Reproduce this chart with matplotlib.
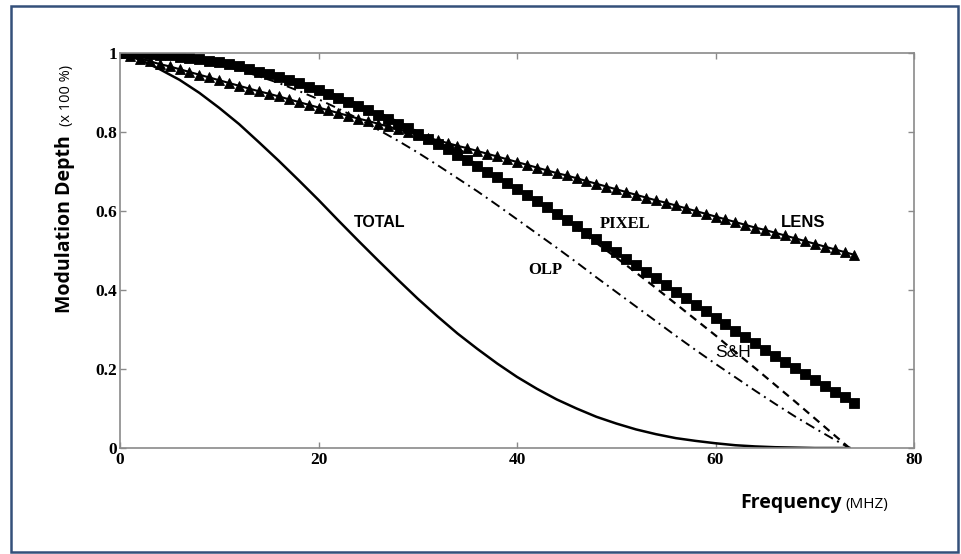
import matplotlib
matplotlib.use("Agg")
import matplotlib.pyplot as plt
from matplotlib.patches import Rectangle

# frequency grid (MHz) for the marker curves
FREQ = list(range(0, 75))

LENS = [1.000, 0.993, 0.986, 0.979, 0.972, 0.966, 0.959, 0.952, 0.945, 0.938,
        0.931, 0.924, 0.917, 0.910, 0.903, 0.897, 0.890, 0.883, 0.876, 0.869,
        0.862, 0.855, 0.848, 0.841, 0.834, 0.828, 0.821, 0.814, 0.807, 0.800,
        0.793, 0.786, 0.779, 0.772, 0.765, 0.759, 0.752, 0.745, 0.738, 0.731,
        0.724, 0.717, 0.710, 0.703, 0.696, 0.690, 0.683, 0.676, 0.669, 0.662,
        0.655, 0.648, 0.641, 0.634, 0.627, 0.621, 0.614, 0.607, 0.600, 0.593,
        0.586, 0.579, 0.572, 0.565, 0.558, 0.552, 0.545, 0.538, 0.531, 0.524,
        0.517, 0.510, 0.503, 0.496, 0.489]

PIXEL = [1.000, 1.000, 0.999, 0.998, 0.996, 0.994, 0.991, 0.988, 0.985, 0.981,
         0.976, 0.971, 0.966, 0.960, 0.953, 0.946, 0.939, 0.932, 0.923, 0.915,
         0.906, 0.897, 0.887, 0.877, 0.866, 0.855, 0.844, 0.833, 0.821, 0.809,
         0.796, 0.783, 0.770, 0.756, 0.743, 0.729, 0.715, 0.700, 0.685, 0.671,
         0.655, 0.640, 0.625, 0.609, 0.593, 0.577, 0.561, 0.545, 0.529, 0.512,
         0.496, 0.479, 0.463, 0.446, 0.430, 0.413, 0.396, 0.380, 0.363, 0.347,
         0.330, 0.314, 0.297, 0.281, 0.265, 0.249, 0.234, 0.218, 0.202, 0.187,
         0.172, 0.157, 0.142, 0.128, 0.113]

# frequency grid (MHz) for the plain line curves
FREQ_LINE = [0, 2, 4, 6, 8, 10, 12, 14, 16, 18, 20, 22, 24, 26, 28, 30, 32, 34,
             36, 38, 40, 42, 44, 46, 48, 50, 52, 54, 56, 58, 60, 62, 64, 66, 68,
             70, 72, 73.5]

OLP = [1.000, 0.999, 0.995, 0.989, 0.981, 0.970, 0.957, 0.941, 0.924, 0.904,
       0.883, 0.859, 0.834, 0.806, 0.778, 0.748, 0.716, 0.683, 0.650, 0.615,
       0.579, 0.543, 0.507, 0.470, 0.432, 0.395, 0.358, 0.321, 0.284, 0.248,
       0.213, 0.179, 0.145, 0.112, 0.080, 0.050, 0.021, 0.000]

SH = [1.000, 0.999, 0.996, 0.992, 0.985, 0.977, 0.967, 0.956, 0.942, 0.927,
      0.910, 0.891, 0.871, 0.850, 0.826, 0.801, 0.775, 0.747, 0.718, 0.688,
      0.656, 0.624, 0.590, 0.555, 0.519, 0.482, 0.444, 0.405, 0.365, 0.325,
      0.285, 0.243, 0.202, 0.160, 0.118, 0.075, 0.032, 0.000]

TOTAL = [1.000, 0.983, 0.959, 0.932, 0.899, 0.861, 0.820, 0.774, 0.727, 0.678,
         0.628, 0.576, 0.525, 0.475, 0.426, 0.378, 0.333, 0.290, 0.251, 0.214,
         0.180, 0.150, 0.123, 0.100, 0.079, 0.062, 0.047, 0.035, 0.025, 0.018,
         0.012, 0.007, 0.004, 0.002, 0.001, 0.000, 0.000, 0.000]

X_TICKS = [0, 20, 40, 60, 80]
Y_TICKS = [0, 0.2, 0.4, 0.6, 0.8, 1.0]
Y_TICK_LABELS = ["0", "0.2", "0.4", "0.6", "0.8", "1"]

W, H = 961, 554
fig = plt.figure(figsize=(W / 100, H / 100), dpi=100)
ax = fig.add_axes([120 / W, 1 - 448 / H, 794 / W, 395 / H])

ax.plot(FREQ_LINE, TOTAL, color="black", linewidth=1.8)
ax.plot(FREQ_LINE, OLP, color="black", linewidth=1.4,
        linestyle=(0, (5, 2.5, 1, 2.5)))
ax.plot(FREQ_LINE, SH, color="black", linewidth=1.6, linestyle=(0, (3.5, 2.5)))
ax.plot(FREQ, PIXEL, color="black", linewidth=1, marker="s", markersize=7,
        markeredgewidth=0.6)
ax.plot(FREQ, LENS, color="black", linewidth=1.5, marker="^", markersize=7.5,
        markeredgewidth=0.6)

ax.set_xlim(0, 80)
ax.set_ylim(0, 1)
ax.set_xticks(X_TICKS)
ax.set_xticklabels([str(t) for t in X_TICKS])
ax.set_yticks(Y_TICKS)
ax.set_yticklabels(Y_TICK_LABELS)

for s in ax.spines.values():
    s.set_color("#8a8a8a")
    s.set_linewidth(1.2)
ax.tick_params(direction="in", length=4, width=1, color="#8a8a8a",
               top=True, right=True, labelsize=12.5, pad=3)
for lab in ax.get_xticklabels() + ax.get_yticklabels():
    lab.set_fontfamily("Liberation Serif")
    lab.set_fontweight("bold")
ax.tick_params(axis="y", pad=2)

# curve labels
ax.text(26.2, 0.572, "TOTAL", family="Liberation Sans", weight="bold",
        fontsize=11.5, ha="center", va="center")
ax.text(50.9, 0.567, "PIXEL", family="Liberation Serif", weight="bold",
        fontsize=12, ha="center", va="center")
ax.text(68.8, 0.572, "LENS", family="Liberation Sans", weight="bold",
        fontsize=12, ha="center", va="center")
ax.text(42.9, 0.451, "OLP", family="Liberation Serif", weight="bold",
        fontsize=12, ha="center", va="center")
ax.text(61.8, 0.241, "S&H", family="Liberation Sans",
        fontsize=12.5, ha="center", va="center")

# axis titles, bold word plus smaller unit
fig.text(70 / W, 1 - 313 / H, "Modulation Depth", family="Open Sans",
         weight="bold", fontsize=14, rotation=90, rotation_mode="anchor",
         ha="left", va="baseline")
fig.text(70 / W, 1 - 126 / H, "(x 100 %)", family="Open Sans",
         fontsize=10.5, rotation=90, rotation_mode="anchor",
         ha="left", va="baseline")
fig.text(740 / W, 1 - 508 / H, "Frequency", family="Open Sans",
         weight="bold", fontsize=14, ha="left", va="baseline")
fig.text(845 / W, 1 - 508 / H, "(MHZ)", family="Open Sans",
         fontsize=11, ha="left", va="baseline")

# framed border around the whole figure
fig.patches.append(Rectangle((11 / W, 1 - 552 / H), 947 / W, 546 / H,
                             transform=fig.transFigure, fill=False,
                             edgecolor="#34507a", linewidth=1.8))

fig.savefig("out.png", dpi=100)
